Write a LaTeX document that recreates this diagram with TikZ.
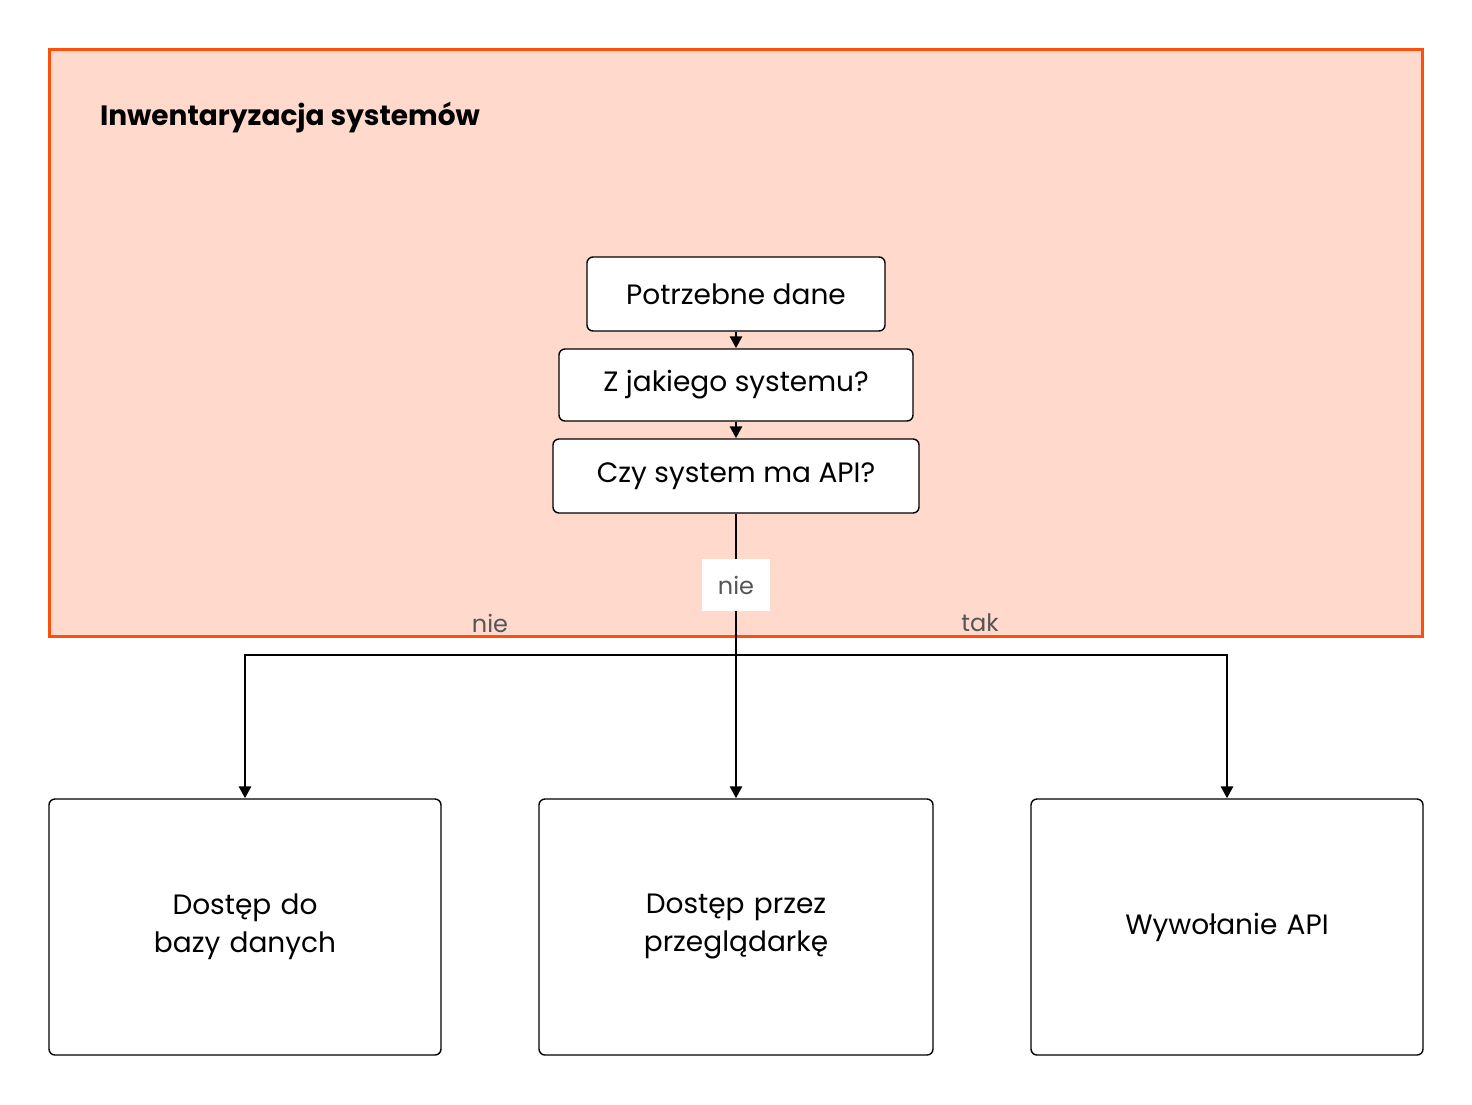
\documentclass[tikz,border=0pt]{standalone}
\usepackage{fontspec}
\setmainfont{Poppins}
\usetikzlibrary{arrows.meta,positioning}
\definecolor{frameorange}{HTML}{FF4F0F}
\definecolor{framefill}{HTML}{FFDACC}
\definecolor{labelgray}{HTML}{555555}
\tikzset{
  question/.style={draw=black, fill=white, rounded corners=3pt, line width=0.7pt, font=\fontsize{14}{19}\selectfont},
  outcome/.style={draw=black, fill=white, rounded corners=3pt, line width=0.7pt, align=center, text width=125pt, font=\fontsize{14}{19}\selectfont},
  flow/.style={line width=1.4pt, -{Triangle[length=6pt,width=6pt]}},
  answer/.style={text=labelgray, font=\fontsize{12}{14}\selectfont}
}
\begin{document}
\begin{tikzpicture}[x=0.5pt,y=-0.5pt]
\useasboundingbox (0,0) rectangle (1472,1104);
% container
\draw[frameorange, fill=framefill, line width=1.5pt] (49,49) rectangle (1422,636);
\node [right, font=\bfseries\fontsize{14}{17}\selectfont] (title) at (93,118) {Inwentaryzacja systemów};
% questions
\node [question, minimum width=149pt, minimum height=37pt] (need) at (736,294) {Potrzebne dane};
\node [question, minimum width=177pt, minimum height=36pt] (which) at (736,385) {Z jakiego systemu?};
\node [question, minimum width=183pt, minimum height=37pt] (hasapi) at (736,476) {Czy system ma API?};
% outcomes
\node [outcome, minimum width=196pt, minimum height=128pt] (db) at (245,927) {Dostęp do bazy danych};
\node [outcome, minimum width=197pt, minimum height=128pt] (browser) at (736,927) {Dostęp przez przeglądarkę};
\node [outcome, minimum width=196pt, minimum height=128pt] (call) at (1227,927) {Wywołanie API};
% connectors
\coordinate (split) at (736,655);
\coordinate (leftturn) at (245,655);
\coordinate (rightturn) at (1227,655);
\draw[flow] (need) -- (which);
\draw[flow] (which) -- (hasapi);
\draw[flow] (hasapi) -- (browser);
\draw[flow] (split) -- (leftturn) -- (db);
\draw[flow] (split) -- (rightturn) -- (call);
\node [answer, fill=white, minimum width=34pt, minimum height=26pt] (nomid) at (736,585) {nie};
\node [answer] (noleft) at (490,623) {nie};
\node [answer] (yesright) at (980,623) {tak};
\end{tikzpicture}
\end{document}
